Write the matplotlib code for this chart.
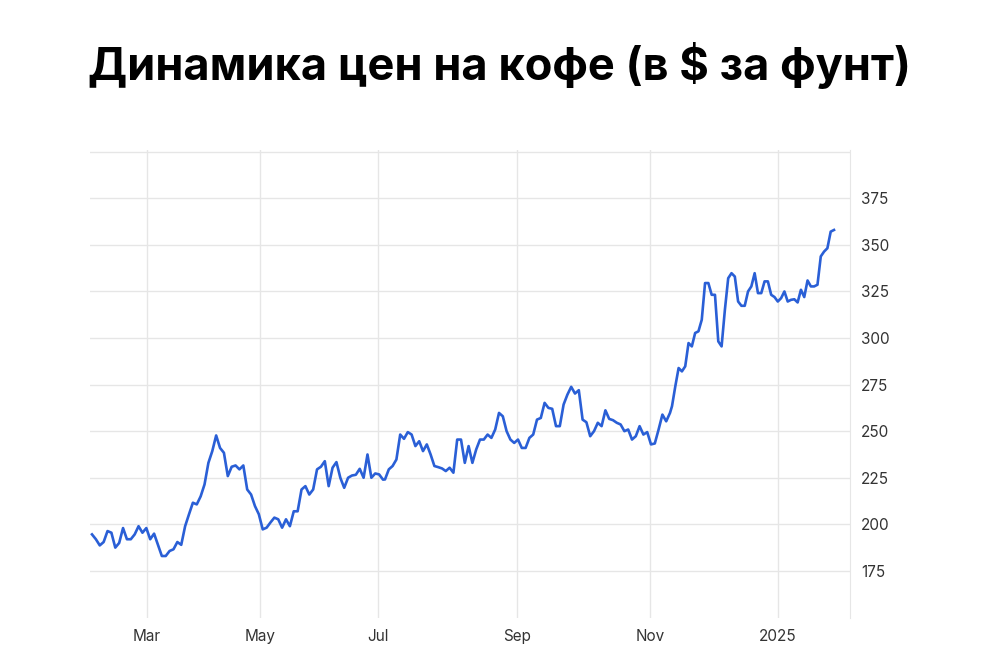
import matplotlib
matplotlib.use("Agg")
import matplotlib.pyplot as plt
import numpy as np

plt.rcParams["font.family"] = ["Inter", "DejaVu Sans"]

title = "Динамика цен на кофе (в $ за фунт)"

# price in $ per pound in three stretches
prices_early = [
    194.6, 192, 188.7, 190.5, 196.4, 195.5, 187.5, 190, 198, 192, 192, 194.6, 199, 195.5,
    198, 192, 195, 189, 183, 183, 185.7, 186.6, 190.5, 189, 199, 205.4, 211.6, 210.7,
    215, 221.4, 233, 239.3, 247.7, 241, 238.4, 225.9, 230.9, 231.6, 229.5, 231.6, 218.7,
    216, 209.8, 205.4, 197.3, 198.2, 201, 203.6, 202.7, 198.2, 202.7, 199, 207, 207,
    218.7, 220.5, 216, 218.7, 229.5, 230.9, 233.9, 220.5, 230.4, 233.4, 225, 219.6, 225,
    226.2, 226.6, 229.8, 225, 237.5, 225, 227.3, 226.8, 224,
]
prices_mid = [
    224.1, 229.5, 231.3, 234.8, 248.2, 245.9, 249.5, 248.2, 242, 244.6, 239.3, 242.9,
    237.5, 231.3, 230.7, 230, 228.6, 230.4, 227.7, 245.5, 245.5, 233, 242, 233, 240.2,
    245.5, 245.5, 248.2, 246.4, 250.9, 259.8, 258, 250, 245.5, 243.7, 245.5, 241, 241,
    246.4, 248.2, 256.2, 257.1, 265.2, 262.5, 262, 252.7, 252.7, 264.3, 269.6, 273.8,
    270.2, 272, 256.2, 254.8, 247.3, 250, 254.5, 252.7, 261.2, 256.6, 255.9, 254.5,
    253.6, 250, 250.9, 245.5, 247.3, 252.7, 248.2, 249.5, 242.9, 243.4, 250.9, 258.9,
    255.3, 259.8,
]
prices_late = [
    263.4, 274.1, 283.9, 282.1, 284.8, 297.3, 295.5, 302.7, 303.6, 309.8, 329.5, 329.5,
    323.2, 323.2, 298.2, 295.5, 315.2, 332.1, 334.8, 333, 319.6, 317.3, 317.3, 325,
    327.7, 334.8, 324.1, 324.1, 330.4, 330.4, 323.2, 322, 319.6, 321.4, 325, 319.6,
    320.5, 320.8, 319.1, 325.9, 322, 330.9, 327.7, 327.7, 328.6, 343.8, 346.4, 348.2,
    357.1, 358,
]
# time span (chart units) covered by each stretch
span_early = (0, 291)
span_mid = (293, 578)
span_late = (580, 742)

tick_pos = [55, 168, 286, 425, 558, 686]
tick_labels = ["Mar", "May", "Jul", "Sep", "Nov", "2025"]
y_ticks = [175, 200, 225, 250, 275, 300, 325, 350, 375]

t = np.concatenate([
    np.linspace(*span_early, len(prices_early)),
    np.linspace(*span_mid, len(prices_mid)),
    np.linspace(*span_late, len(prices_late)),
])
prices = prices_early + prices_mid + prices_late

fig = plt.figure(figsize=(10, 6.66), dpi=100)
fig.text(0.5, 0.902, title, ha="center", va="center", fontsize=32.5,
         fontweight="bold", color="black")

ax = fig.add_axes([0.09, 0.072, 0.76, 0.703])
ax.plot(t, prices, color="#2a5fd6", lw=1.9)

ax.set_xlim(-2, 758)
ax.set_ylim(149.7, 401)
ax.set_xticks(tick_pos)
ax.set_xticklabels(tick_labels)
ax.set_yticks(y_ticks + [400])
ax.set_yticklabels([str(v) for v in y_ticks] + [""])
ax.yaxis.tick_right()
ax.tick_params(axis="both", length=0, labelsize=11, colors="#333333", pad=8)
ax.grid(True, color="#e6e6e6", lw=1)
for side in ["left", "top", "bottom"]:
    ax.spines[side].set_visible(False)
ax.spines["right"].set_color("#e6e6e6")

fig.savefig("out.png", dpi=100, facecolor="white")
